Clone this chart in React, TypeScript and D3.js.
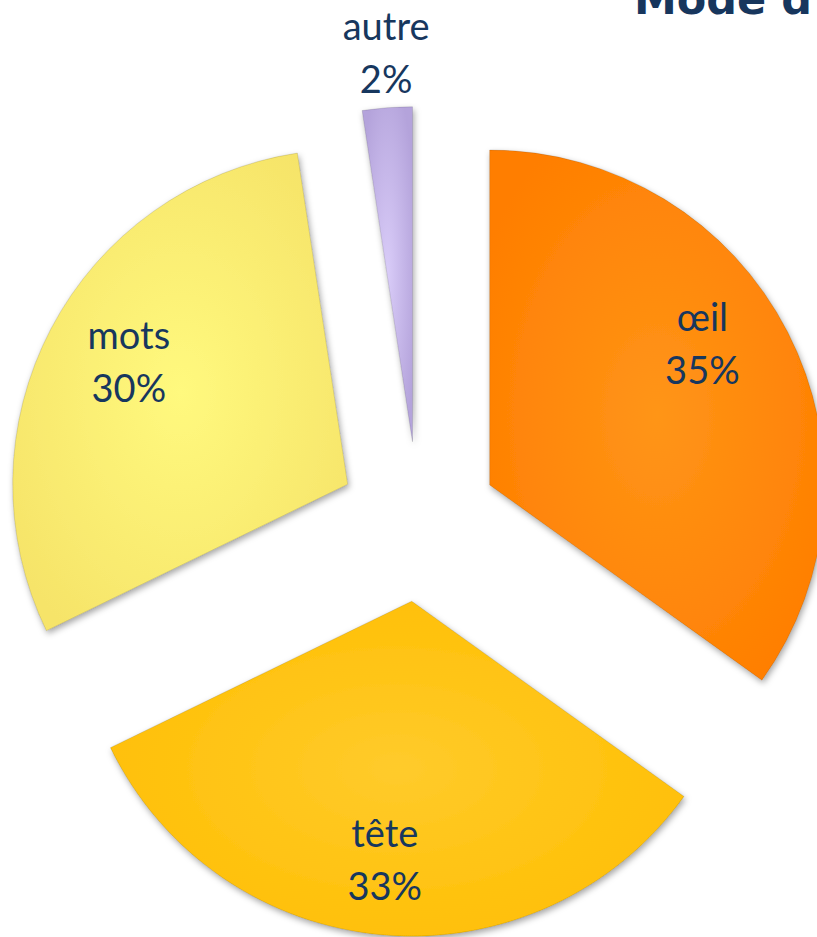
import React from 'react';
import * as d3 from 'd3';

// data (shares; labels show rounded percentages)
const categories = ['œil', 'tête', 'mots', 'autre'];
const values = [34.9, 32.9, 29.8, 2.4];
const percentLabels = ['35%', '33%', '30%', '2%'];
const innerColors = ['#FF9518', '#FFCB2C', '#FFF97E', '#D9CCF8'];
const outerColors = ['#FF7E00', '#FFBE00', '#F6E469', '#B4A3DB'];

const W = 817;
const H = 937;
const cx = 418.5;
const cy = 521.5;
const radius = 335;
const explode = 80;
// distance of label from pie centre, per slice (small slice label sits outside)
const labelRadius = [336, 340, 334, 470];
const labelNudge = [[-15, -24], [-5, 0], [6, -4], [3, 0]];

const App = () => {
  const total = d3.sum(values);
  const pie = d3.pie<number>().sort(null).value(d => d)(values.map(v => (v / total) * 100));
  const arc = d3.arc<d3.PieArcDatum<number>>().innerRadius(0).outerRadius(radius);

  return (
    <svg width={W} height={H} style={{ position: 'absolute', left: 0, top: 0 }}>
      <defs>
        <filter id="shadow" x="-20%" y="-20%" width="140%" height="140%">
          <feDropShadow dx="1.5" dy="3" stdDeviation="3" floodColor="#000" floodOpacity="0.35" />
        </filter>
        {categories.map((c, i) => (
          <radialGradient key={c} id={`grad${i}`} cx="50%" cy="50%" r="60%">
            <stop offset="0%" stopColor={innerColors[i]} />
            <stop offset="100%" stopColor={outerColors[i]} />
          </radialGradient>
        ))}
      </defs>

      <g transform={`translate(${cx},${cy})`}>
        {pie.map((p, i) => {
          const mid = (p.startAngle + p.endAngle) / 2;
          const dx = explode * Math.sin(mid);
          const dy = -explode * Math.cos(mid);
          return (
            <path
              key={categories[i]}
              d={arc(p) || ''}
              transform={`translate(${dx},${dy})`}
              fill={`url(#grad${i})`}
              stroke="rgba(0,0,0,0.12)"
              strokeWidth={1}
              filter="url(#shadow)"
            />
          );
        })}
        {pie.map((p, i) => {
          const mid = (p.startAngle + p.endAngle) / 2;
          const lx = labelRadius[i] * Math.sin(mid) + labelNudge[i][0];
          const ly = -labelRadius[i] * Math.cos(mid) + labelNudge[i][1];
          return (
            <text
              key={'l' + categories[i]}
              x={lx}
              y={ly}
              textAnchor="middle"
              fontFamily="Lato, sans-serif"
              fontSize={38}
              fill="#17375E"
            >
              <tspan x={lx} y={ly - 13}>{categories[i]}</tspan>
              <tspan x={lx} y={ly + 40}>{percentLabels[i]}</tspan>
            </text>
          );
        })}
      </g>

      {/* title is cropped at the top edge in the reference */}
      <text x={634} y={14} fontFamily="'DejaVu Sans', sans-serif" fontWeight="bold" fontSize={43} fill="#17365D">
        Mode d
      </text>
    </svg>
  );
};

export default App;
